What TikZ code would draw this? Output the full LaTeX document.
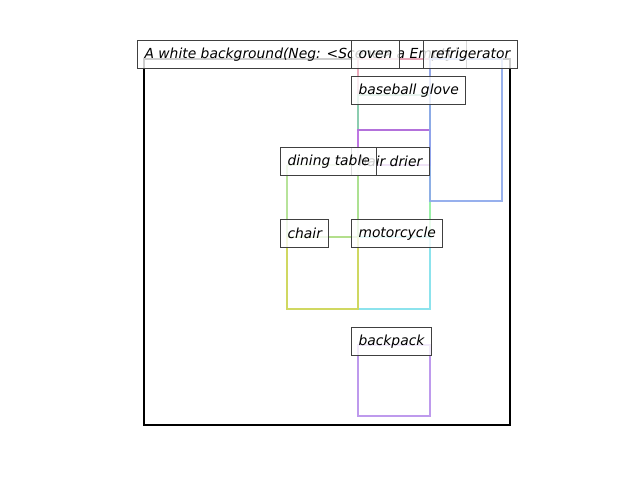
\documentclass[tikz,border=0pt]{standalone}
\usepackage{fontspec}
\setmainfont{DejaVu Sans}
\begin{document}
\begin{tikzpicture}[x=0.75pt,y=-0.75pt,
  lbl/.style={draw=black!75, line width=0.75pt, fill=white, fill opacity=0.8, text opacity=1,
    inner xsep=5.25pt, inner ysep=0pt, minimum height=21pt, anchor=north west,
    font=\fontsize{10.4}{12}\selectfont\itshape},
  objbox/.style={line width=1.9pt, draw opacity=0.9}]
\definecolor{cpink}{HTML}{E8A0B4}
\definecolor{cteal}{HTML}{80C8A8}
\definecolor{cviolet}{HTML}{B868E0}
\definecolor{cblue}{HTML}{8CA8EC}
\definecolor{clgreen}{HTML}{B0E090}
\definecolor{cbgreen}{HTML}{90F0A0}
\definecolor{colive}{HTML}{D0D860}
\definecolor{ccyan}{HTML}{80E0EC}
\definecolor{cbpurple}{HTML}{B890EC}
\fill[white] (0,0) rectangle (640,480);
\useasboundingbox (0,0) rectangle (640,480);
% scene frame
\draw[line width=2.1pt, black] (144,59) rectangle (510,425);
\node[lbl] (caption) at (137,40) {A white background(Neg: <Scene> a Empty)};
% object boxes
\draw[objbox, cpink] (358,59) rectangle (430,95);
\draw[objbox, cteal] (358,95) rectangle (430,130);
\draw[objbox, cbgreen] (358,165) rectangle (430,237);
\draw[objbox, cviolet] (358,130) rectangle (430,165);
\draw[objbox, cblue] (430,59) rectangle (502,201);
\draw[objbox, ccyan] (358,237) rectangle (430,309);
\draw[objbox, colive] (287,237) rectangle (358,309);
\draw[objbox, clgreen] (287,165) -- (287,237) -- (358,237) -- (358,165);
\draw[objbox, clgreen!70] (287,165) -- (358,165);
\draw[objbox, colive] (287,237) -- (287,309) -- (358,309) -- (358,237);
\draw[objbox, cbpurple] (358,345) rectangle (430,416);
% labels
\node[lbl] (oven) at (351,40) {oven};
\node[lbl] (fridge) at (423,40) {refrigerator};
\node[lbl] (glove) at (351,76) {baseball glove};
\node[lbl] (drier) at (351,147) {hair drier};
\node[lbl] (table) at (280,147) {dining table};
\node[lbl] (chair) at (280,219) {chair};
\node[lbl] (moto) at (351,219) {motorcycle};
\node[lbl] (backpack) at (351,327) {backpack};
\end{tikzpicture}
\end{document}
